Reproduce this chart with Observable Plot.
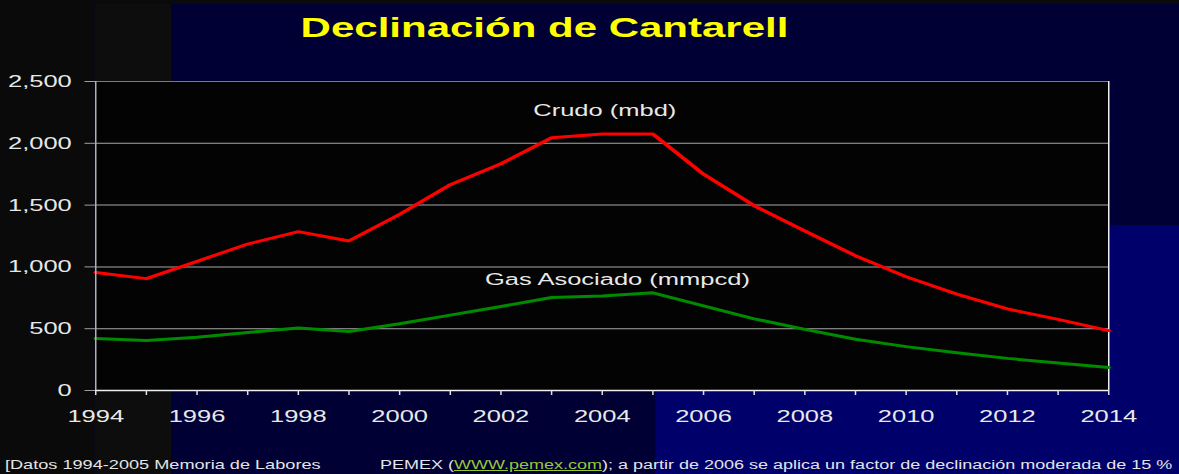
<!DOCTYPE html>
<html><head><meta charset="utf-8">
<script src="https://cdn.jsdelivr.net/npm/d3@7"></script>
<script src="https://cdn.jsdelivr.net/npm/@observablehq/plot@0.6"></script>
<style>
html,body{margin:0;padding:0;background:#000035;}
#stage{position:relative;width:1179px;height:474px;overflow:hidden;background:#000035;font-family:"Liberation Sans",Arial,sans-serif;}
#inner{position:absolute;left:0;top:0;width:786px;height:474px;transform:scaleX(1.5);transform-origin:0 0;}
.bg{position:absolute;}
#title{position:absolute;left:0;top:14px;width:726px;text-align:center;font-weight:bold;font-size:28px;line-height:1;color:#ffff00;white-space:nowrap;}
.foot{position:absolute;top:459px;font-size:12.1px;line-height:1;color:#e4e4e4;white-space:nowrap;}
.foot2{font-size:12px;top:459px;}
.foot a{color:#99c833;text-decoration:underline;}
#chart{position:absolute;left:0;top:0;}
</style></head><body>
<div id="stage"><div id="inner">
  <div class="bg" style="left:0;top:0;width:63.3px;height:474px;background:#0a0a0a"></div>
  <div class="bg" style="left:63.3px;top:0;width:50.7px;height:474px;background:#0d0d0d"></div>
  <div class="bg" style="left:437.3px;top:390px;width:349px;height:84px;background:#00006b"></div>
  <div class="bg" style="left:740px;top:225px;width:46px;height:249px;background:#00006b"></div>
  <div class="bg" style="left:0;top:0;width:786px;height:4px;background:#0a0a0a"></div>
  <div id="title">Declinación de Cantarell</div>
  <div id="chart"></div>
  <div class="foot" style="left:3.3px">[Datos 1994-2005 Memoria de Labores</div>
  <div class="foot foot2" style="left:253.3px">PEMEX (<a>WWW.pemex.com</a>); a partir de 2006 se aplica un factor de declinación moderada de 15 %</div>
</div></div>
<script>
const years = [1994,1995,1996,1997,1998,1999,2000,2001,2002,2003,2004,2005,2006,2007,2008,2009,2010,2011,2012,2013,2014];
const crudo = [955,905,1045,1185,1285,1210,1425,1665,1835,2045,2075,2075,1750,1495,1290,1090,920,780,660,575,485];
const gas   = [420,405,430,470,505,478,540,610,680,752,765,790,685,580,495,415,355,305,260,222,186];
const yTicks = [0,500,1000,1500,2000,2500];
const gridValues = [500,1000,1500,2000];
const seriesLabels = ["Crudo (mbd)","Gas Asociado (mmpcd)"];
const labelYears = [2004.05,2004.3];
const labelValues = [2265,900];

const crudoData = years.map((y,i)=>({year:y,value:crudo[i]}));
const gasData = years.map((y,i)=>({year:y,value:gas[i]}));
const labelData = seriesLabels.map((t,i)=>({text:t,year:labelYears[i],value:labelValues[i]}));

const chart = Plot.plot({
  width: 786,
  height: 440,
  marginLeft: 63.33,
  marginRight: 47.33,
  marginTop: 81,
  marginBottom: 50,
  style: {background:"transparent", overflow:"visible", fontFamily:"'Liberation Sans', Arial, sans-serif"},
  x: {domain:[1994,2014]},
  y: {domain:[0,2500]},
  marks: [
    Plot.frame({fill:"#030303", stroke:"none"}),
    Plot.ruleY(gridValues, {stroke:"#a8a8a8", strokeWidth:1}),
    Plot.ruleY([2500], {stroke:"#7c7c7c", strokeWidth:1}),
    Plot.ruleX([2014], {stroke:"#f0f0f0", strokeWidth:1}),
    Plot.line(gasData, {x:"year", y:"value", stroke:"#008a00", strokeWidth:3, curve:"linear"}),
    Plot.line(crudoData, {x:"year", y:"value", stroke:"#ff0000", strokeWidth:3, curve:"linear"}),
    Plot.text(labelData, {x:"year", y:"value", text:"text", fill:"#e8e8e8", fontSize:17, textAnchor:"middle", lineAnchor:"middle"}),
    Plot.ruleX([1994], {stroke:"#b0b0b0", strokeWidth:1}),
    Plot.ruleY([0], {stroke:"#f0f0f0", strokeWidth:1.5}),
    Plot.axisY({ticks:yTicks, tickFormat:d3.format(","), tickSize:7, tickPadding:9, fontSize:17, stroke:"#a0a0a0", fill:"#e8e8e8", label:null}),
    Plot.axisX({ticks:years, tickFormat:d => d % 2 === 0 ? String(d) : "", tickSize:5, tickPadding:14, fontSize:17, stroke:"#e0e0e0", fill:"#e8e8e8", label:null})
  ]
});
document.getElementById("chart").appendChild(chart);
</script>
</body></html>
